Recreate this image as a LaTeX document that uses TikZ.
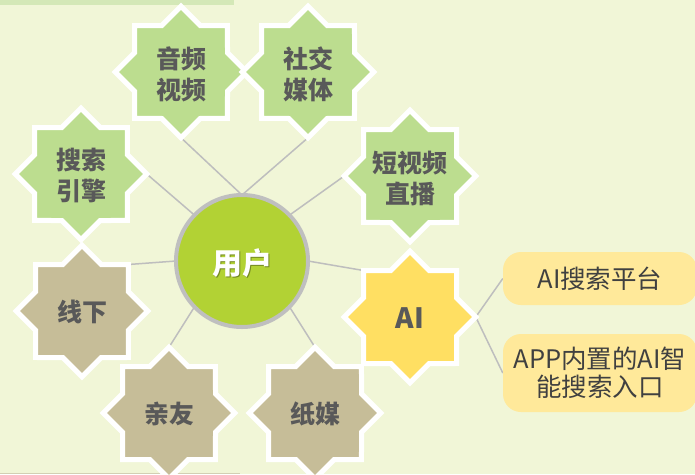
\documentclass[tikz,border=0pt]{standalone}
\usepackage{fontspec}
\newfontfamily\cjk{Noto Sans CJK SC}
\usetikzlibrary{shapes.geometric}
\definecolor{bgcol}{HTML}{F1F6D7}
\definecolor{bandcol}{HTML}{D4E8B7}
\definecolor{greenstar}{HTML}{BCDD8F}
\definecolor{tanstar}{HTML}{C6BD98}
\definecolor{yellowstar}{HTML}{FFDF62}
\definecolor{usercol}{HTML}{B2D234}
\definecolor{ringcol}{HTML}{BFBFBF}
\definecolor{linkcol}{HTML}{BEBEBE}
\definecolor{boxcol}{HTML}{FFE99A}
\definecolor{startext}{HTML}{595959}
\definecolor{boxtext}{HTML}{404040}
\definecolor{basecol}{HTML}{D3CFB3}
\pgfdeclarelayer{back}
\pgfsetlayers{back,main}
\begin{document}
\begin{tikzpicture}[x=1pt,y=-1pt,
  starbox/.style={star, star points=8, star point ratio=1.3066,
    minimum size=131.5pt, inner sep=0pt, outer sep=0pt,
    draw=white, line width=5pt, fill=#1},
  startxt/.style={text=startext, font=\cjk\bfseries\fontsize{25}{31}\selectfont,
    align=center, inner sep=0pt},
  link/.style={draw=linkcol, line width=1.5pt},
  infobox/.style={fill=boxcol, rounded corners=18pt, minimum width=194pt,
    text=boxtext, font=\cjk\fontsize{25.5}{28}\selectfont, align=center, inner sep=0pt}
]
\useasboundingbox (0,0) rectangle (695,474);
% stars
\node[starbox=greenstar] (yinpin) at (181,72) {};
\node[startxt] (yinpin-t) at (181,74) {音频\\视频};
\node[starbox=greenstar] (shejiao) at (308,72) {};
\node[startxt] (shejiao-t) at (308,74) {社交\\媒体};
\node[starbox=greenstar] (sousuo) at (81,174) {};
\node[startxt] (sousuo-t) at (81,176) {搜索\\引擎};
\node[starbox=greenstar] (duanshipin) at (410,176) {};
\node[startxt] (duanshipin-t) at (410,178) {短视频\\直播};
\node[starbox=tanstar] (xianxia) at (82,311) {};
\node[startxt] (xianxia-t) at (82,312) {线下};
\node[starbox=tanstar] (qinyou) at (169,413) {};
\node[startxt] (qinyou-t) at (169,414) {亲友};
\node[starbox=tanstar] (zhimei) at (315,413) {};
\node[startxt] (zhimei-t) at (315,414) {纸媒};
\node[starbox=yellowstar] (ai) at (410,317) {};
\node[text=startext, font=\cjk\bfseries\fontsize{28}{30}\selectfont, inner sep=0pt] (ai-t) at (410,318) {AI};
% centre
\node[circle, fill=usercol, draw=ringcol, line width=4pt, minimum size=132pt,
  inner sep=0pt, outer sep=0pt] (user) at (242,261) {};
\node[text=black, opacity=0.35, font=\cjk\bfseries\fontsize{30}{32}\selectfont, inner sep=0pt]
  (user-s) at (243.5,264.5) {用户};
\node[text=white, font=\cjk\bfseries\fontsize{30}{32}\selectfont, inner sep=0pt]
  (user-t) at (242,263) {用户};
% boxes
\node[infobox, minimum height=53pt] (box1) at (600,278.5) {AI搜索平台};
\node[infobox, minimum height=78pt] (box2) at (600,373) {APP内置的AI智\\能搜索入口};
\begin{pgfonlayer}{back}
  \fill[bgcol] (0,0) rectangle (695,474);
  \fill[bandcol] (0,0) rectangle (234,4.5);
  \draw[draw=basecol, line width=1pt] (0,473.5) -- (240,473.5);
  \draw[link] (user.90) -- (yinpin.south);
  \draw[link] (user.90) -- (shejiao.south);
  \draw[link] (user.136) -- (sousuo.east);
  \draw[link] (user.44) -- (duanshipin.west);
  \draw[link] (user.180) -- (xianxia.north east);
  \draw[link] (user.224) -- (qinyou.north);
  \draw[link] (user.316) -- (zhimei.north);
  \draw[link] (user.0) -- (ai.north west);
  \draw[link] (ai.east) -- (box1.west);
  \draw[link] (ai.east) -- (box2.west);
\end{pgfonlayer}
\end{tikzpicture}
\end{document}
